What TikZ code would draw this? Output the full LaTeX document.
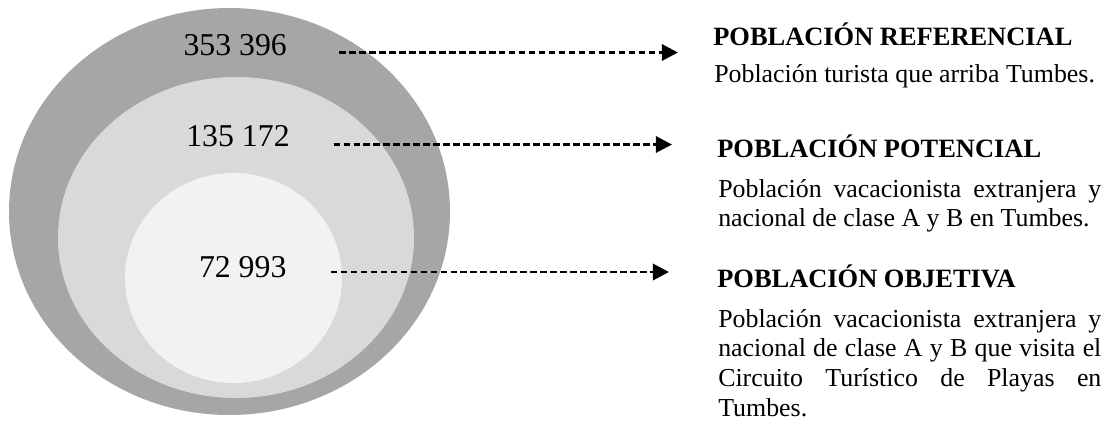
\documentclass[tikz,border=0pt]{standalone}
\usepackage{fontspec}
\setmainfont{Liberation Serif}
\usetikzlibrary{arrows.meta}

\definecolor{exterior}{HTML}{A6A6A6}
\definecolor{medio}{HTML}{D9D9D9}
\definecolor{interior}{HTML}{F2F2F2}

\hyphenpenalty=10000
\tolerance=10000

\begin{document}
\begin{tikzpicture}[x=0.025cm, y=-0.025cm,  % one unit is one pixel, y going down
    cifra/.style={anchor=base, inner sep=0pt, font=\fontsize{22.6}{26}\selectfont},
    titulo/.style={anchor=base west, inner sep=0pt, font=\fontsize{18.8}{21.1}\selectfont\bfseries},
    texto/.style={anchor=base west, inner sep=0pt, text width=9.575cm, align=justify,
        font=\fontsize{18.4}{21.1}\selectfont},
    flecha/.style={line width=2.1pt, dash pattern=on 4.7pt off 2.4pt,
        -{Triangle[length=11.5pt, width=11.5pt]}}]

            \useasboundingbox[fill=white] (0, 0) rectangle (1111, 423);

            % Ellipses
            \fill[exterior] (229.5, 211.5) ellipse (220.5 and 203.5);
            \fill[medio] (236, 237.5) ellipse (178 and 160.5);
            \fill[interior] (233.5, 278) ellipse (108.5 and 105);

            % Numbers
            \node[cifra] (n1) at (235.2, 55) {353 396};
            \node[cifra] (n2) at (238, 146.7) {135 172};
            \node[cifra] (n3) at (242.7, 277) {72 993};

            % Text
            \node[titulo] (h1) at (713, 45) {POBLACIÓN REFERENCIAL};
            \node[texto] (d1) at (714, 82) {Población turista que arriba Tumbes.};

            \node[titulo] (h2) at (717, 157) {POBLACIÓN POTENCIAL};
            \node[texto] (d2) at (718, 197) {Población vacacionista extranjera y\linebreak
                nacional de clase A y B en Tumbes.};

            \node[titulo] (h3) at (717, 287) {POBLACIÓN OBJETIVA};
            \node[texto] (d3) at (718, 327) {Población vacacionista extranjera y\linebreak
                nacional de clase A y B que visita el\linebreak
                Circuito Turístico de Playas en\linebreak Tumbes.};

            % Arrows
            \coordinate (t1) at (678, 52.5);
            \coordinate (t2) at (672, 144.5);
            \coordinate (t3) at (669, 272);
            \draw[flecha, shorten <=1.3cm] (n1.east |- t1) -- (t1);
            \draw[flecha, shorten <=1.09cm] (n2.east |- t2) -- (t2);
            \draw[flecha, shorten <=1.1cm] (n3.east |- t3) -- (t3);

        \end{tikzpicture}
\end{document}
